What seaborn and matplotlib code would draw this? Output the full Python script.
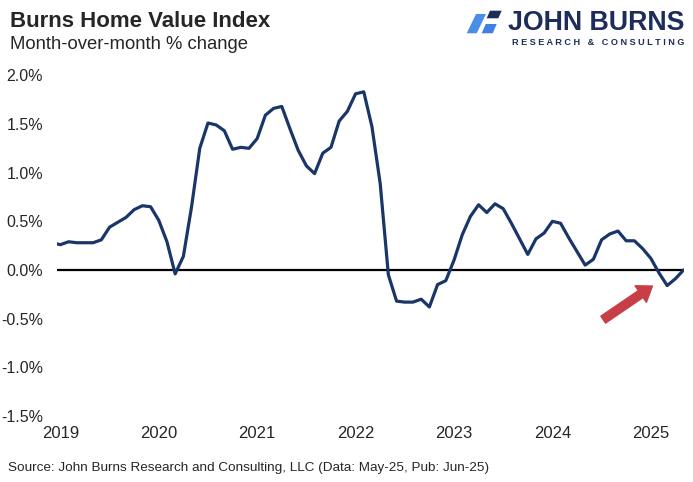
import numpy as np
import pandas as pd
import matplotlib
matplotlib.use('Agg')
import matplotlib.pyplot as plt
from matplotlib.patches import Polygon
import seaborn as sns

# monthly % change, Dec-2018 .. May-2025 (first point sits just left of the axis)
months = pd.date_range('2018-12-01', '2025-05-01', freq='MS')
mom_change = [
    0.28,
    0.26, 0.29, 0.28, 0.28, 0.28, 0.31, 0.44, 0.49, 0.54, 0.62, 0.66, 0.65,
    0.51, 0.29, -0.04, 0.14, 0.65, 1.25, 1.51, 1.49, 1.43, 1.24, 1.26, 1.25,
    1.35, 1.59, 1.66, 1.68, 1.45, 1.23, 1.07, 0.99, 1.20, 1.26, 1.53, 1.63,
    1.81, 1.83, 1.47, 0.89, -0.05, -0.32, -0.33, -0.33, -0.30, -0.38, -0.15, -0.11,
    0.10, 0.36, 0.55, 0.67, 0.59, 0.68, 0.63, 0.48, 0.32, 0.16, 0.32, 0.38,
    0.50, 0.48, 0.33, 0.19, 0.05, 0.11, 0.31, 0.37, 0.40, 0.30, 0.30, 0.22,
    0.12, -0.03, -0.16, -0.09, 0.00,
]
year_labels = ['2019', '2020', '2021', '2022', '2023', '2024', '2025']
y_ticks = [-1.5, -1.0, -0.5, 0.0, 0.5, 1.0, 1.5, 2.0]

df = pd.DataFrame({'month': months, 'change': mom_change})
# months counted from Jan-2019
df['pos'] = (df['month'].dt.year - 2019) * 12 + df['month'].dt.month - 1

W, H = 693, 482
sns.set_style('white')
plt.rcParams['font.family'] = ['Liberation Sans', 'DejaVu Sans']

fig = plt.figure(figsize=(W / 100, H / 100), dpi=100)
ax = fig.add_axes([57 / W, 1 - 416 / H, (684 - 57) / W, (416 - 75.3) / H])

sns.lineplot(data=df, x='pos', y='change', ax=ax, color='#1A3668', linewidth=2.3)
ax.axhline(0, color='black', linewidth=1.6, zorder=1)

ax.set_xlim(-0.41, 76.05)
ax.set_ylim(-1.5, 2.0)
ax.set_xticks(np.arange(len(year_labels)) * 12)
ax.set_xticklabels(year_labels)
ax.set_yticks(y_ticks)
ax.set_yticklabels([f'{v:.1f}%' for v in y_ticks])
ax.tick_params(axis='x', length=0, pad=7, labelsize=12)
ax.tick_params(axis='y', length=0, pad=10, labelsize=11.5)
ax.set_xlabel('')
ax.set_ylabel('')
for s in ax.spines.values():
    s.set_visible(False)

# red arrow pointing at the recent dip
ax.annotate('', xy=(72.2, -0.165), xytext=(66.2, -0.51),
            arrowprops=dict(arrowstyle='simple,head_length=0.85,head_width=1.2,tail_width=0.5',
                            color='#C73E47', shrinkA=0, shrinkB=0, mutation_scale=12))

# titles
fig.text(10 / W, 1 - 27 / H, 'Burns Home Value Index', fontsize=16, weight='bold',
         va='baseline', ha='left')
fig.text(10 / W, 1 - 49 / H, 'Month-over-month % change', fontsize=13.3,
         va='baseline', ha='left')
fig.text(8 / W, 1 - 471 / H,
         'Source: John Burns Research and Consulting, LLC (Data: May-25, Pub: Jun-25)',
         fontsize=9.7, va='baseline', ha='left')

# logo
navy = '#1C2C5B'
shapes = [
    ([(466.7, 33.3), (476.7, 33.3), (486, 14), (476, 14)], '#4A8FE7'),
    ([(486.7, 18.3), (498.3, 18.3), (501.7, 10.7), (490, 10.7)], navy),
    ([(481.7, 33.3), (492.7, 33.3), (496.7, 24), (485.7, 24)], '#3F80E2'),
]
for pts, col in shapes:
    fig.patches.append(Polygon([(x / W, 1 - y / H) for x, y in pts], closed=True,
                               transform=fig.transFigure, color=col, lw=0))
fig.text(684 / W, 1 - 30 / H, 'JOHN BURNS', fontsize=19.3, weight='bold', color=navy,
         va='baseline', ha='right')
fig.text(684 / W, 1 - 45 / H, ' '.join('RESEARCH & CONSULTING'), fontsize=6.6,
         weight='bold', color=navy, va='baseline', ha='right')

fig.savefig('out.png', dpi=100)
